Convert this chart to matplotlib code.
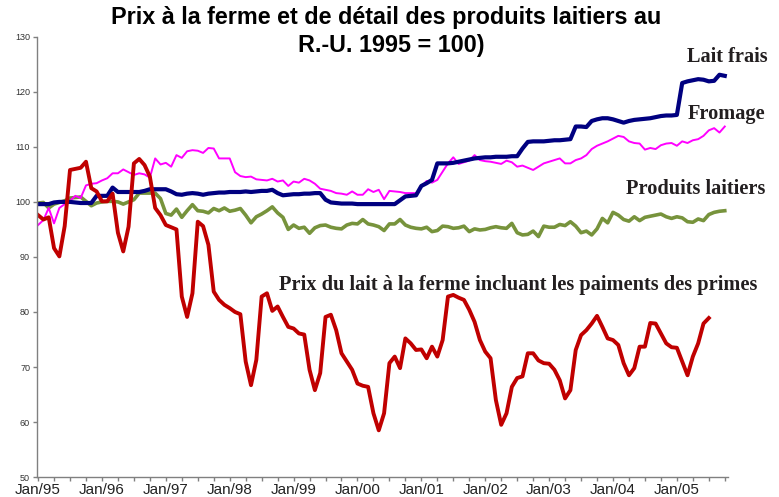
import matplotlib.pyplot as plt
import numpy as np

# monthly index values, Jan 1995 = month 0
lait_frais = [99.6, 99.6, 99.6, 99.9, 100.0, 100.0, 100.0, 99.9, 99.8, 99.8,
              99.8, 101.1, 101.1, 101.1, 102.6, 101.8, 101.8, 101.8, 101.8, 101.8,
              102.0, 102.3, 102.3, 102.3, 102.3, 101.9, 101.4, 101.3, 101.5, 101.6,
              101.5, 101.3, 101.5, 101.6, 101.7, 101.7, 101.8, 101.8, 101.8, 101.9,
              101.8, 101.9, 102.0, 102.0, 102.2, 101.6, 101.2, 101.3, 101.4, 101.4,
              101.5, 101.5, 101.6, 101.6, 100.4, 99.9, 99.8, 99.7, 99.7, 99.7,
              99.6, 99.6, 99.6, 99.6, 99.6, 99.6, 99.6, 99.6, 100.3, 101.0,
              101.1, 101.2, 102.9, 103.4, 104.0, 107.0, 107.0, 107.0, 107.1, 107.3,
              107.5, 107.7, 107.9, 108.0, 108.1, 108.1, 108.2, 108.2, 108.2, 108.3,
              108.3, 109.7, 110.9, 111.0, 111.0, 111.0, 111.1, 111.2, 111.2, 111.3,
              111.4, 113.7, 113.7, 113.6, 114.7, 115.0, 115.2, 115.2, 115.0, 114.7,
              114.4, 114.7, 114.9, 115.0, 115.1, 115.2, 115.4, 115.6, 115.7, 115.7,
              115.8, 121.6, 121.9, 122.1, 122.3, 122.2, 121.9, 122.0, 123.1, 122.9]

fromage = [95.8, 96.7, 98.9, 96.1, 98.9, 99.6, 100.2, 101.1, 100.7, 103.0,
           103.3, 103.4, 103.9, 104.3, 105.2, 105.2, 105.9, 105.4, 104.9, 105.2,
           105.0, 104.4, 107.9, 106.8, 107.1, 106.4, 108.5, 108.0, 109.2, 109.4,
           109.3, 108.9, 109.8, 109.7, 107.9, 107.9, 107.9, 105.4, 104.7, 104.5,
           104.6, 104.1, 104.0, 103.9, 104.2, 103.7, 103.9, 102.9, 103.7, 103.5,
           104.2, 103.9, 103.3, 102.4, 102.2, 102.0, 101.6, 101.5, 101.3, 101.9,
           101.3, 101.3, 102.3, 101.8, 102.2, 100.5, 102.0, 101.9, 101.8, 101.6,
           101.6, 101.6, 102.8, 103.8, 103.5, 104.0, 105.5, 107.0, 108.1, 106.9,
           107.2, 107.5, 108.5, 107.6, 107.4, 107.3, 107.1, 106.9, 107.5, 107.2,
           106.4, 106.6, 106.2, 105.8, 106.4, 107.0, 107.3, 107.6, 107.9, 107.0,
           107.0, 107.6, 107.9, 108.5, 109.6, 110.2, 110.6, 111.0, 111.5, 112.0,
           111.8, 111.0, 110.7, 110.6, 109.5, 109.8, 109.6, 110.3, 110.6, 110.7,
           110.2, 111.0, 110.7, 111.2, 111.4, 112.0, 113.0, 113.4, 112.6, 113.7]

produits = [99.8, 99.9, 98.9, 99.6, 99.9, 100.2, 100.7, 100.8, 100.9, 100.1,
            99.3, 99.8, 100.0, 100.1, 100.1, 100.0, 99.6, 100.0, 100.4, 101.6,
            101.6, 101.6, 101.6, 100.6, 97.9, 97.6, 98.7, 97.2, 98.4, 99.5,
            98.4, 98.3, 98.0, 98.8, 98.4, 98.9, 98.3, 98.5, 98.8, 97.6,
            96.2, 97.3, 97.8, 98.4, 99.1, 98.0, 97.2, 95.0, 95.8, 95.2,
            95.4, 94.3, 95.3, 95.7, 95.8, 95.4, 95.2, 95.1, 95.8, 96.1,
            96.0, 96.8, 96.0, 95.8, 95.5, 94.8, 96.0, 96.0, 96.8, 95.8,
            95.4, 95.2, 95.1, 95.4, 94.6, 94.8, 95.6, 95.5, 95.2, 95.3,
            95.6, 94.6, 95.1, 94.9, 95.0, 95.3, 95.5, 95.3, 95.2, 96.1,
            94.4, 94.0, 94.1, 94.7, 93.7, 95.6, 95.4, 95.4, 95.9, 95.7,
            96.4, 95.6, 94.4, 94.7, 94.0, 95.1, 97.0, 96.2, 98.1, 97.6,
            96.8, 96.5, 97.3, 96.6, 97.2, 97.4, 97.6, 97.8, 97.3, 97.0,
            97.3, 97.1, 96.4, 96.3, 96.9, 96.6, 97.7, 98.1, 98.3, 98.4]

prix_ferme = [97.6, 96.8, 97.2, 91.6, 90.1, 95.6, 105.8, 106.0, 106.2, 107.3,
              102.5, 101.9, 100.1, 100.1, 101.5, 94.4, 91.0, 95.5, 107.0, 107.8,
              106.7, 104.6, 98.9, 97.6, 95.8, 95.4, 95.0, 82.8, 79.1, 83.4,
              96.4, 95.6, 92.2, 83.7, 82.2, 81.3, 80.7, 80.0, 79.6, 71.0,
              66.7, 71.3, 82.8, 83.4, 80.2, 81.0, 79.1, 77.3, 77.0, 76.1,
              75.9, 69.5, 65.8, 68.9, 79.1, 79.5, 76.7, 72.5, 71.0, 69.5,
              67.0, 66.6, 66.4, 61.6, 58.5, 61.6, 70.7, 71.9, 69.8, 75.2,
              74.3, 73.1, 73.2, 71.6, 73.7, 71.9, 74.9, 82.8, 83.1, 82.6,
              82.2, 80.4, 78.2, 74.9, 72.8, 71.6, 64.0, 59.5, 61.6, 66.4,
              68.0, 68.3, 72.5, 72.5, 71.2, 70.7, 70.6, 69.5, 67.6, 64.3,
              65.8, 73.1, 75.8, 76.7, 77.9, 79.3, 77.3, 75.2, 74.9, 74.0,
              70.7, 68.5, 69.8, 73.7, 73.7, 78.0, 77.9, 76.1, 74.3, 73.6,
              73.5, 71.0, 68.5, 71.9, 74.3, 77.9, 78.9]

year_labels = ['Jan/95', 'Jan/96', 'Jan/97', 'Jan/98', 'Jan/99', 'Jan/00',
               'Jan/01', 'Jan/02', 'Jan/03', 'Jan/04', 'Jan/05']

fig = plt.figure(figsize=(7.79, 4.97), dpi=100)
ax = fig.add_axes([0.0475, 0.040, 0.887, 0.886])

ax.plot(np.arange(len(produits)), produits, color='#77933C', linewidth=2.6)
ax.plot(np.arange(len(fromage)), fromage, color='#FF00FF', linewidth=1.4)
ax.plot(np.arange(len(lait_frais)), lait_frais, color='#000080', linewidth=3.0)
ax.plot(np.arange(len(prix_ferme)), prix_ferme, color='#C00000', linewidth=2.8)

ax.set_xlim(-0.2, 129.6)
ax.set_ylim(50, 130)
ax.set_yticks(range(50, 131, 10))
ax.set_xticks(np.arange(0, 130, 3))
ax.set_xticklabels([year_labels[i // 4] if i % 4 == 0 else '' for i in range(len(np.arange(0, 130, 3)))])

for s in ['top', 'right']:
    ax.spines[s].set_visible(False)
for s in ['left', 'bottom']:
    ax.spines[s].set_color('#808080')
    ax.spines[s].set_linewidth(1.0)
ax.tick_params(axis='y', colors='#808080', labelcolor='#333333', labelsize=6.5,
               length=3, width=1, pad=2)
ax.tick_params(axis='x', colors='#808080', labelcolor='#222222', labelsize=11,
               length=3, width=1, pad=1)
for t in ax.get_xticklabels() + ax.get_yticklabels():
    t.set_family('Liberation Sans')

fig.text(0.4955, 0.964, 'Prix à la ferme et de détail des produits laitiers au',
         ha='center', va='center', fontsize=16.8, fontweight='bold', family='Liberation Sans')
fig.text(0.502, 0.909, 'R.-U. 1995 = 100)',
         ha='center', va='center', fontsize=16.8, fontweight='bold', family='Liberation Sans')

lbl = dict(ha='right', va='center', fontsize=14.7, fontweight='bold',
           family='Liberation Serif', color='#231F20')
ax.text(0.986, 0.885, 'Lait frais', transform=fig.transFigure, **lbl)
ax.text(0.982, 0.771, 'Fromage', transform=fig.transFigure, **lbl)
ax.text(0.982, 0.620, 'Produits laitiers', transform=fig.transFigure, **lbl)
ax.text(0.972, 0.427, 'Prix du lait à la ferme incluant les paiments des primes',
        transform=fig.transFigure, **lbl)

plt.savefig('out.png')
